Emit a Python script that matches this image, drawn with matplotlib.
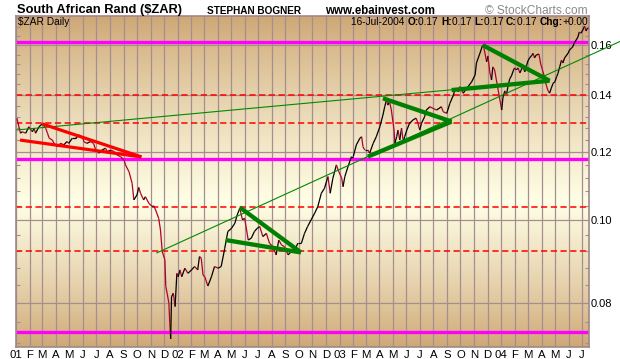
import matplotlib
matplotlib.use('Agg')
import matplotlib.pyplot as plt
import matplotlib.dates as mdates
from matplotlib.collections import LineCollection
from matplotlib.ticker import FixedLocator, FixedFormatter, NullFormatter, FuncFormatter
import numpy as np
import pandas as pd

plt.rcParams['font.family'] = ['Liberation Sans', 'DejaVu Sans']
plt.rcParams['lines.scale_dashes'] = False

# ---------------- data ----------------
dates = [
 '2001-01-03','2001-01-11','2001-01-15','2001-01-23','2001-01-30','2001-02-07','2001-02-11','2001-02-14','2001-02-22',
 '2001-03-01','2001-03-09','2001-03-13','2001-03-17','2001-03-24','2001-03-28','2001-04-04','2001-04-12','2001-04-19',
 '2001-04-26','2001-04-30','2001-05-08','2001-05-16','2001-05-23','2001-05-31','2001-06-03','2001-06-10','2001-06-18',
 '2001-06-25','2001-06-30','2001-07-07','2001-07-14','2001-07-22','2001-07-26','2001-08-03','2001-08-10','2001-08-17',
 '2001-08-25','2001-09-02','2001-09-05','2001-09-13','2001-09-20','2001-09-24','2001-10-01','2001-10-05','2001-10-09',
 '2001-10-16','2001-10-20','2001-10-28','2001-11-05','2001-11-08','2001-11-12','2001-11-19','2001-11-23','2001-11-27',
 '2001-12-03','2001-12-05','2001-12-08','2001-12-12','2001-12-14','2001-12-16','2001-12-18','2001-12-22','2001-12-26',
 '2001-12-30',
 '2002-01-02','2002-01-06','2002-01-10','2002-01-17','2002-01-24','2002-02-01','2002-02-08','2002-02-15','2002-02-19',
 '2002-02-23','2002-02-27','2002-03-03','2002-03-10','2002-03-18','2002-03-25','2002-04-02','2002-04-09','2002-04-17',
 '2002-04-24','2002-05-02','2002-05-10','2002-05-15','2002-05-21','2002-05-27','2002-06-01','2002-06-09','2002-06-16',
 '2002-06-23','2002-06-29','2002-07-05','2002-07-12','2002-07-20','2002-07-27','2002-08-04','2002-08-11','2002-08-17',
 '2002-08-23','2002-08-30','2002-09-07','2002-09-14','2002-09-22','2002-09-29','2002-10-07','2002-10-14','2002-10-21',
 '2002-10-29','2002-11-06','2002-11-13','2002-11-21','2002-11-28','2002-12-06','2002-12-11','2002-12-17','2002-12-25',
 '2002-12-29',
 '2003-01-06','2003-01-09','2003-01-13','2003-01-20','2003-01-28','2003-02-01','2003-02-08','2003-02-16','2003-02-20',
 '2003-02-23','2003-02-27','2003-03-06','2003-03-10','2003-03-18','2003-03-25','2003-04-02','2003-04-09','2003-04-13',
 '2003-04-17','2003-04-20','2003-04-24','2003-04-28','2003-05-04','2003-05-06','2003-05-10','2003-05-13','2003-05-17',
 '2003-05-21','2003-05-25','2003-05-28','2003-06-02','2003-06-08','2003-06-16','2003-06-23','2003-06-27','2003-07-01',
 '2003-07-05','2003-07-12','2003-07-16','2003-07-24','2003-07-31','2003-08-08','2003-08-19','2003-08-23','2003-08-31',
 '2003-09-07','2003-09-15','2003-09-18','2003-09-22','2003-09-26','2003-09-30','2003-10-07','2003-10-18','2003-10-26',
 '2003-11-03','2003-11-06','2003-11-14','2003-11-20','2003-11-23','2003-11-29','2003-12-02','2003-12-06','2003-12-10',
 '2003-12-13','2003-12-17','2003-12-21','2003-12-25','2003-12-29',
 '2004-01-02','2004-01-05','2004-01-09','2004-01-13','2004-01-16','2004-01-20','2004-01-24','2004-01-28','2004-01-31',
 '2004-02-04','2004-02-08','2004-02-12','2004-02-15','2004-02-19','2004-02-23','2004-02-27','2004-03-01','2004-03-05',
 '2004-03-09','2004-03-13','2004-03-16','2004-03-20','2004-03-26','2004-03-30','2004-04-03','2004-04-08','2004-04-12',
 '2004-04-15','2004-04-19','2004-04-23','2004-04-27','2004-05-01','2004-05-05','2004-05-08','2004-05-12','2004-05-16',
 '2004-05-19','2004-05-23','2004-05-31','2004-06-03','2004-06-07','2004-06-10','2004-06-14','2004-06-22','2004-06-25',
 '2004-06-29','2004-07-03','2004-07-07','2004-07-10','2004-07-14','2004-07-16',
]
values = [
 0.1315,0.1263,0.1268,0.1263,0.1285,0.1268,0.1280,0.1263,0.1285,
 0.1295,0.1280,0.1263,0.1246,0.1240,0.1229,0.1218,0.1229,0.1224,
 0.1235,0.1229,0.1246,0.1246,0.1257,0.1251,0.1235,0.1229,0.1235,
 0.1229,0.1207,0.1197,0.1207,0.1213,0.1202,0.1207,0.1202,0.1191,
 0.1186,0.1175,0.1160,0.1139,0.1104,0.1056,0.1070,0.1092,0.1075,
 0.1056,0.1065,0.1046,0.1037,0.1039,0.1028,0.1005,0.0974,0.0919,
 0.0899,0.0837,0.0822,0.0800,0.0758,0.0727,0.0814,0.0822,0.0793,
 0.0867,
 0.0859,0.0875,0.0859,0.0879,0.0867,0.0875,0.0883,0.0875,0.0907,
 0.0903,0.0863,0.0859,0.0838,0.0859,0.0883,0.0879,0.0883,0.0927,
 0.0970,0.0978,0.0992,0.1014,0.1032,0.1001,0.1005,0.0948,0.0953,
 0.0970,0.0978,0.0983,0.0957,0.0965,0.0940,0.0931,0.0911,0.0948,
 0.0936,0.0931,0.0911,0.0919,0.0923,0.0940,0.0940,0.0965,0.0983,
 0.1001,0.1019,0.1037,0.1075,0.1089,0.1124,0.1075,0.1119,0.1160,
 0.1144,
 0.1119,0.1094,0.1124,0.1154,0.1186,0.1186,0.1224,0.1246,0.1251,
 0.1218,0.1207,0.1207,0.1197,0.1229,0.1251,0.1285,0.1326,0.1356,
 0.1381,0.1362,0.1374,0.1344,0.1274,0.1229,0.1251,0.1274,0.1240,
 0.1280,0.1235,0.1251,0.1274,0.1297,0.1309,0.1315,0.1297,0.1274,
 0.1297,0.1320,0.1344,0.1356,0.1350,0.1344,0.1356,0.1338,0.1332,
 0.1368,0.1399,0.1418,0.1425,0.1412,0.1431,0.1406,0.1431,0.1449,
 0.1477,0.1525,0.1566,0.1600,0.1586,0.1530,0.1554,0.1489,0.1457,
 0.1509,0.1497,0.1457,0.1418,0.1381,
 0.1344,0.1392,0.1415,0.1403,0.1430,0.1461,0.1473,0.1493,0.1505,
 0.1497,0.1505,0.1485,0.1497,0.1509,0.1489,0.1513,0.1533,0.1546,
 0.1554,0.1565,0.1546,0.1558,0.1562,0.1521,0.1497,0.1465,0.1434,
 0.1418,0.1406,0.1426,0.1444,0.1450,0.1470,0.1483,0.1510,0.1537,
 0.1525,0.1546,0.1566,0.1579,0.1586,0.1592,0.1609,0.1635,0.1657,
 0.1652,0.1666,0.1684,0.1662,0.1675,0.1673,
]

magenta_levels = [0.1612, 0.1180, 0.0741]
red_dash_levels = [0.1400, 0.1297, 0.1035, 0.0921]

# trend lines: (start date, start value, end date, end value)
thin_green = [
    ('2001-01-03', 0.1274, '2004-04-19', 0.1454),
    ('2001-11-15', 0.0916, '2004-09-24', 0.1615),
]
thick_green = [
    ('2002-05-21', 0.1035, '2002-10-06', 0.0917),
    ('2002-04-19', 0.0948, '2002-10-06', 0.0917),
    ('2003-04-09', 0.1387, '2003-09-11', 0.1303),
    ('2003-03-06', 0.1186, '2003-09-11', 0.1303),
    ('2003-11-20', 0.1600, '2004-04-19', 0.1454),
    ('2003-09-11', 0.1418, '2004-04-19', 0.1454),
]
thick_red = [
    ('2001-03-01', 0.1295, '2001-10-11', 0.1185),
    ('2001-01-10', 0.1240, '2001-10-11', 0.1185),
]

ytick_vals = [0.08, 0.10, 0.12, 0.14, 0.16]
ytick_labels = ['0.08', '0.10', '0.12', '0.14', '0.16']
month_letters = ['J', 'F', 'M', 'A', 'M', 'J', 'J', 'A', 'S', 'O', 'N', 'D']

x_start, x_end = '2001-01-01', '2004-07-17'
y_low, y_high = 0.07114, 0.1730

# ---------------- figure ----------------
W, H = 620, 359
fig = plt.figure(figsize=(W / 100, H / 100), dpi=100)
fig.patch.set_facecolor('white')
rect = [16 / W, 1 - 347 / H, 573 / W, 331 / H]

# gradient background
bg = fig.add_axes(rect, zorder=0)
tan = np.array([206, 166, 116]) / 255.0
cream = np.array([255, 255, 230]) / 255.0
t = np.linspace(0, 1, 400)
peak = 0.56
f = np.where(t < peak, t / peak, (1 - t) / (1 - peak))
f = np.clip(f, 0, 1) ** 0.85
grad = tan[None, :] + (cream - tan)[None, :] * f[:, None]
bg.imshow(grad[:, None, :], aspect='auto', extent=[0, 1, 0, 1], interpolation='bilinear')
bg.set_axis_off()

ax = fig.add_axes(rect, zorder=1)
ax.patch.set_alpha(0)
gridc = '#A48E90'

dt = pd.to_datetime(dates)
xn = mdates.date2num(dt)
yv = np.array(values)

ax.set_yscale('log')
ax.set_xlim(mdates.datestr2num(x_start), mdates.datestr2num(x_end))
ax.set_ylim(y_low, y_high)

# grid
months = pd.date_range('2001-01-01', '2004-07-01', freq='MS')
ax.xaxis.set_major_locator(FixedLocator(mdates.date2num(months)))
def mfmt(v, pos):
    d = mdates.num2date(v)
    if d.month == 1:
        return d.strftime('%y')
    return month_letters[d.month - 1]
ax.xaxis.set_major_formatter(FuncFormatter(mfmt))
ax.yaxis.set_major_locator(FixedLocator(ytick_vals))
ax.yaxis.set_major_formatter(FixedFormatter(ytick_labels))
ax.yaxis.set_minor_locator(FixedLocator(np.arange(0.072, 0.173, 0.004)))
ax.yaxis.set_minor_formatter(NullFormatter())
ax.grid(True, which='major', color=gridc, lw=0.9, zorder=0.5)
ax.set_axisbelow(True)

ax.tick_params(axis='x', which='major', length=0, pad=2.5, labelsize=8.2)
ax.tick_params(axis='y', which='major', length=0, pad=1.5, labelsize=8,
               left=False, right=False, labelleft=False, labelright=True)
ax.tick_params(axis='y', which='minor', direction='in', length=3, width=0.8,
               color=gridc, left=True, right=True)
for s in ax.spines.values():
    s.set_color('#A08888')
    s.set_linewidth(1.2)

# horizontal level lines
for lv in red_dash_levels:
    ln, = ax.plot([0, 1], [lv, lv], transform=ax.get_yaxis_transform(), color='#FF0000',
                  lw=1.1, zorder=2)
    ln.set_dashes([4.5, 2.5])
for lv in magenta_levels:
    ax.plot([0, 1], [lv, lv], transform=ax.get_yaxis_transform(), color='#FF00FF',
            lw=2.4, zorder=2, solid_capstyle='butt')

# price line, coloured by direction
pts = np.column_stack([xn, yv])
segs = np.stack([pts[:-1], pts[1:]], axis=1)
cols = ['#000000' if b >= a else '#B0002C' for a, b in zip(yv[:-1], yv[1:])]
lc = LineCollection(segs, colors=cols, linewidths=0.9, zorder=3)
ax.add_collection(lc)

def seg(spec):
    d0, v0, d1, v1 = spec
    return [mdates.datestr2num(d0), mdates.datestr2num(d1)], [v0, v1]

for i, spec in enumerate(thin_green):
    xs, ys = seg(spec)
    ax.plot(xs, ys, color='#008A00', lw=0.8, zorder=4, clip_on=(i == 0))
for spec in thick_red:
    xs, ys = seg(spec)
    ax.plot(xs, ys, color='#FF0000', lw=2.3, zorder=5, solid_capstyle='butt')
for spec in thick_green:
    xs, ys = seg(spec)
    ax.plot(xs, ys, color='#008000', lw=3.1, zorder=5, solid_capstyle='butt')

# ---------------- texts ----------------
def px(x, y):
    return x / W, 1 - y / H

fig.text(*px(17, 13.5), 'South African Rand ($ZAR)', fontsize=9.3, fontweight='bold', va='baseline')
fig.text(*px(207, 13.5), 'STEPHAN BOGNER', fontsize=7.2, fontweight='bold', va='baseline')
fig.text(*px(325, 13.5), 'www.ebainvest.com', fontsize=8.3, fontweight='bold', va='baseline')
fig.text(*px(588, 13.5), '\u00a9 StockCharts.com', fontsize=8.6, color='#8A8A8A', va='baseline', ha='right')
ax.text(*px(17.5, 25.3), '$ZAR Daily', transform=fig.transFigure, fontsize=7.3, va='baseline', zorder=6)

pieces = [('16-Jul-2004 ', 'normal'), ('O:', 'bold'), ('0.17 ', 'normal'), ('H:', 'bold'),
          ('0.17 ', 'normal'), ('L:', 'bold'), ('0.17 ', 'normal'), ('C:', 'bold'),
          ('0.17 ', 'normal'), ('Chg:', 'bold'), ('+0.00', 'normal')]
fig.canvas.draw()
r = fig.canvas.get_renderer()
widths = []
for s, w in pieces:
    tt = fig.text(0, 0, s, fontsize=7.3, fontweight=w)
    widths.append(tt.get_window_extent(renderer=r).width)
    tt.remove()
xcur = 588 - sum(widths)
for (s, w), wd in zip(pieces, widths):
    fig.text(*px(xcur, 25.3), s, fontsize=7.3, fontweight=w, va='baseline', zorder=6)
    xcur += wd

fig.savefig('out.png', dpi=100)
